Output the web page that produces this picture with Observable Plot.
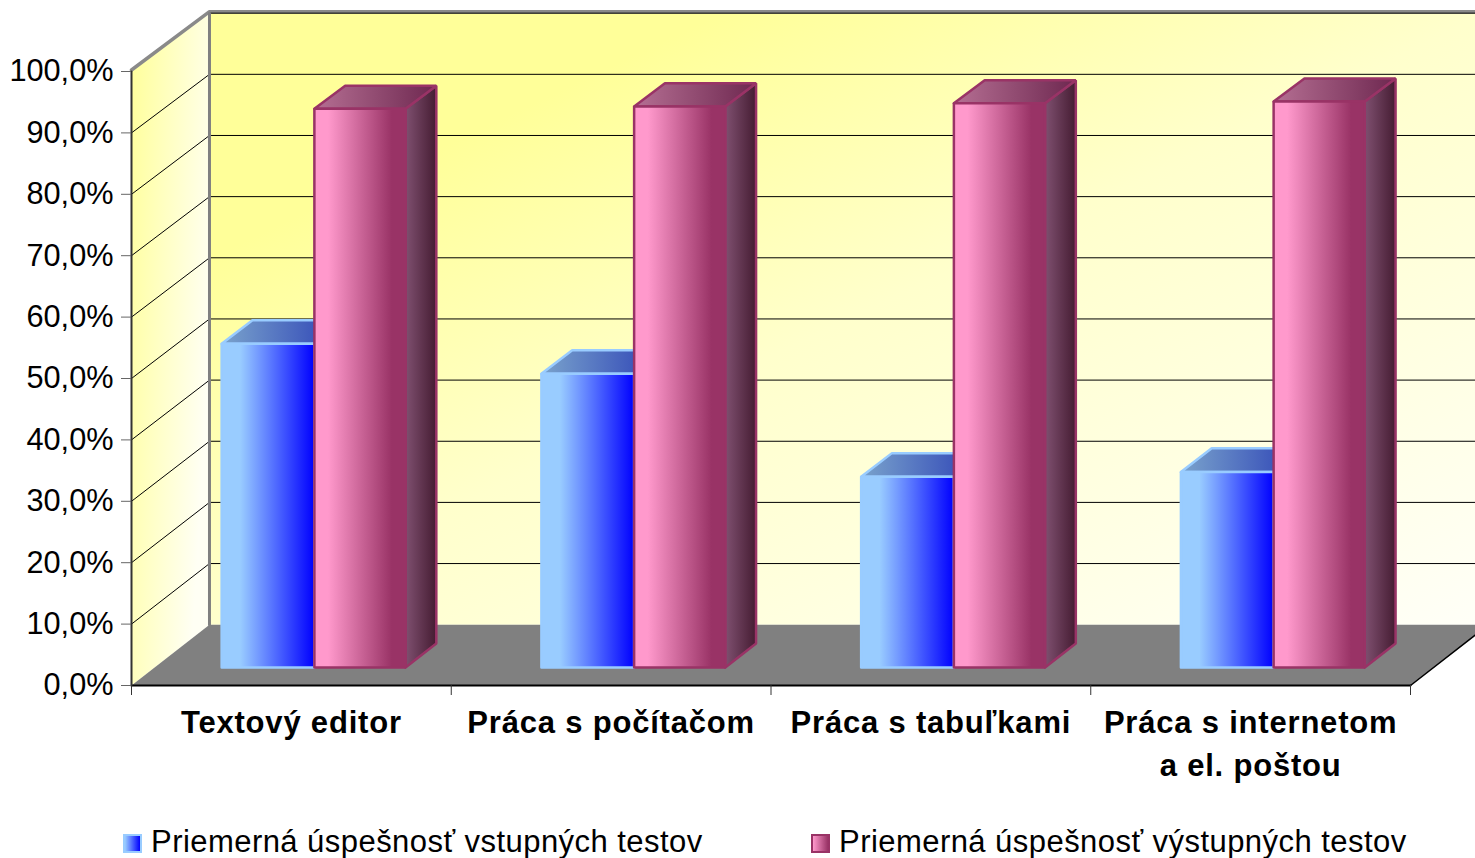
<!DOCTYPE html>
<html><head><meta charset="utf-8">
<script src="https://cdn.jsdelivr.net/npm/d3@7"></script>
<script src="https://cdn.jsdelivr.net/npm/@observablehq/plot@0.6"></script>
<style>
html,body{margin:0;padding:0;background:#fff;overflow:hidden}
#chart svg{display:block}
#chart g[font-weight="bold"]{letter-spacing:.8px}
#legend{position:relative;height:43px;font:31px "Liberation Sans",Arial,sans-serif;letter-spacing:.45px;color:#000}
.it{position:absolute;top:0;height:43px;line-height:53px;white-space:nowrap}
.sw{position:absolute;top:19px;width:15px;height:15px;border:2px solid}
</style></head><body>
<div id="chart"></div><div id="legend"></div>
<script>
const categories = ["Textový editor","Práca s počítačom","Práca s tabuľkami","Práca s internetom\na el. poštou"];
const vstupne = [52.8,47.9,31.1,31.9];
const vystupne = [91.1,91.5,92.0,92.3];
const yTicks = [0,10,20,30,40,50,60,70,80,90,100];
const seriesNames = ["Priemerná úspešnosť vstupných testov","Priemerná úspešnosť výstupných testov"];

// oblique projection: depth d (0 front .. 1 back) shifts the data position
const DX = 0.2439, DY = 9.9, K = 0.004;
const P = (c,v,d=0) => ({x:c+d*DX, y:v*(1-K*d)+d*DY});
const poly = (pts,fill,stroke,sw=0) => Plot.line([...pts,pts[0]],{x:"x",y:"y",fill,stroke:stroke||"none",strokeWidth:sw,strokeLinejoin:"miter",curve:"linear"});
const seg = (pts,stroke,sw,dy=0) => Plot.line(pts,{x:"x",y:"y",stroke,strokeWidth:sw,dy,curve:"linear"});

const defsMark = () => {
  const g = document.createElementNS("http://www.w3.org/2000/svg","g");
  const lin=(id,stops,x2=1,y2=0)=>`<linearGradient id="${id}" x1="0" y1="0" x2="${x2}" y2="${y2}">`+stops.map(([o,c])=>`<stop offset="${o}" stop-color="${c}"/>`).join("")+`</linearGradient>`;
  g.innerHTML = "<defs>"+
    lin("wall",[[0,"#FFFF99"],[0.2,"#FFFF99"],[0.5,"#FFFFCC"],[1,"#FFFFF8"]],1,1)+
    lin("side",[[0,"#FFFF99"],[1,"#FFFFF4"]],1,0.5)+
    lin("blueF",[[0,"#99CCFF"],[0.2,"#99CCFF"],[1,"#0000FF"]])+
    lin("blueT",[[0,"#7AA3CC"],[1,"#2A3FB5"]])+
    lin("pinkF",[[0,"#FF99CC"],[0.15,"#FF99CC"],[0.85,"#993366"],[1,"#993366"]])+
    lin("pinkT",[[0,"#B56F93"],[1,"#6E2850"]])+
    lin("pinkS",[[0,"#7F5070"],[1,"#451C32"]])+
    "</defs>";
  return g;
};

const marks = [defsMark];
// walls and floor
marks.push(poly([P(0,100),P(0,100,1),P(0,0,1),P(0,0)],"url(#side)"));
marks.push(poly([P(0,100,1),P(4,100,1),P(4,0,1),P(0,0,1)],"url(#wall)"));
marks.push(poly([P(0,0),P(0,0,1),P(4,0,1),P(4,0)],"#808080"));
// grid
for (const t of yTicks.slice(1,-1)) marks.push(seg([P(0,t),P(0,t,1),P(4,t,1)],"#000",1));
marks.push(seg([P(0,100),P(0,100,1),P(4,100,1)],"#8a8a8a",3.5,-1.5));
marks.push(seg([P(0,100,1),P(4,100,1)],"#000",1));
marks.push(seg([P(0,100,1),P(0,0,1)],"#808080",3));
marks.push(seg([P(0,0),P(4,0)],"#000",2));
marks.push(seg([P(4,0),P(4,0,1)],"#000",1.5));
marks.push(seg([P(0,0),P(0,100)],"#333",2));
// bars
const d0=0.295,d1=0.69,bw=0.29,pw=0.285,off=0.21;
const bar=(c,w,v,front,top,side,stroke,sw)=>[
  poly([P(c+w,0,d0),P(c+w,0,d1),P(c+w,v,d1),P(c+w,v,d0)],side,stroke,sw),
  poly([P(c,v,d0),P(c+w,v,d0),P(c+w,v,d1),P(c,v,d1)],top,stroke,sw),
  poly([P(c,0,d0),P(c+w,0,d0),P(c+w,v,d0),P(c,v,d0)],front,stroke,sw)
];
categories.forEach((_,i)=>{
  marks.push(bar(i+off,bw,vstupne[i],"url(#blueF)","url(#blueT)","url(#blueT)","#99CCFF",2.5));
  marks.push(bar(i+off+bw,pw,vystupne[i],"url(#pinkF)","url(#pinkT)","url(#pinkS)","#993366",2.5));
});
const txt={fontFamily:"'Liberation Sans',Arial,sans-serif"};
marks.push(Plot.axisY({ticks:yTicks,tickSize:10,tickPadding:8,fontSize:30.7,stroke:"#666",label:null,tickFormat:d=>d.toFixed(1).replace(".",",")+"%",color:"#000"}));
marks.push(Plot.axisX({ticks:[0,1,2,3,4],tickSize:10,tickFormat:()=>"",label:null,stroke:"#333"}));
marks.push(Plot.axisX({ticks:[0.5,1.5,2.5,3.5],tickSize:0,tickPadding:17,fontSize:31,fontWeight:"bold",lineHeight:1.39,lineAnchor:"top",label:null,tickFormat:d=>categories[d-0.5]}));

const chart = Plot.plot({
  width:1475,height:815,
  marginLeft:131,marginRight:65,marginTop:71,marginBottom:130,
  style:{...txt,background:"transparent",overflow:"hidden"},
  x:{type:"linear",domain:[0,4]},
  y:{type:"linear",domain:[0,100]},
  marks
});
document.getElementById("chart").append(chart);
const L=document.getElementById("legend");
[[seriesNames[0],123,151,"linear-gradient(90deg,#99CCFF,#0000FF)","#99CCFF"],
 [seriesNames[1],811,839,"linear-gradient(90deg,#FF99CC,#993366)","#993366"]].forEach(([t,sx,tx,bg,bc])=>{
  const s=document.createElement("div");s.className="sw";s.style.left=sx+"px";s.style.background=bg;s.style.borderColor=bc;L.append(s);
  const d=document.createElement("div");d.className="it";d.style.left=tx+"px";d.textContent=t;L.append(d);
});
</script></body></html>
